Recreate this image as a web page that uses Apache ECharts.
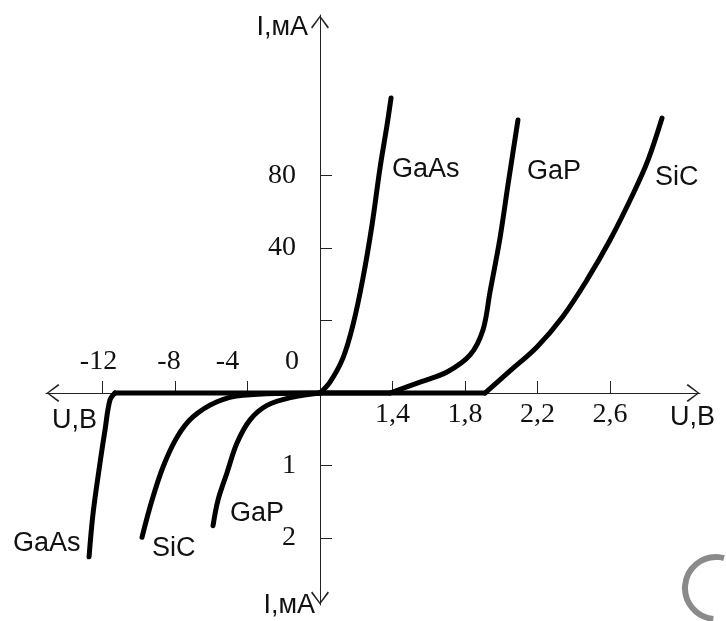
<!DOCTYPE html>
<html>
<head>
<meta charset="utf-8">
<title>ВАХ светодиодов</title>
<script src="https://cdn.jsdelivr.net/npm/echarts@6/dist/echarts.min.js"></script>
<style>
    html, body { margin: 0; padding: 0; background: #fff; }
    #chart { width: 726px; height: 621px; }
</style>
</head>
<body>
<div id="chart"></div>
<script>
// прямые ветви: [U, В ; I, мА]
const gaasForward = [[1.0, 0], [1.055, 3.0], [1.127, 9.7], [1.182, 18.8], [1.237, 31.7], [1.287, 52.7], [1.331, 84.1], [1.370, 107.9], [1.392, 122.8]];
const gapForward = [[1.0, 0], [1.386, 0], [1.552, 3.0], [1.701, 5.8], [1.828, 10.5], [1.899, 17.4], [1.938, 27.9], [1.993, 45.5], [2.037, 74.8], [2.092, 110.6]];
const sicForward = [[1.0, 0], [1.91, 0], [2.048, 6.1], [2.197, 12.7], [2.341, 21.2], [2.473, 31.2], [2.600, 44.4], [2.727, 69.8], [2.810, 88.6], [2.887, 111.7]];

// обратные ветви (ток со знаком минус)
const gaasReverse = [[0, 0], [-11.31, 0], [-11.59, -0.1], [-11.86, -0.51], [-12.14, -0.97], [-12.52, -1.66], [-12.74, -2.26]];
const sicReverse = [[0, 0], [-4.25, -0.03], [-5.68, -0.12], [-7.01, -0.33], [-7.89, -0.61], [-8.66, -1.02], [-9.27, -1.48], [-9.82, -1.99]];
const gapReverse = [[0, 0], [-1.49, -0.055], [-2.92, -0.17], [-3.86, -0.37], [-4.58, -0.69], [-5.13, -1.10], [-5.63, -1.48], [-5.90, -1.83]];

// деления и подписи осей
const uFwdTicks = [1.4, 1.8, 2.2, 2.6];
const uFwdLabels = ['1,4', '1,8', '2,2', '2,6'];
const uRevTicks = [-12, -8, -4];
const uRevLabels = ['-12', '-8', '-4', '0'];
const iFwdTicks = [20, 40, 80];
const iFwdLabels = ['', '40', '80'];
const iRevTicks = [-1, -2];
const iRevLabels = ['1', '2'];

// ось разорвана: справа от нуля шкала начинается с 1 В, вверх по току шаги 0-20-40-80
const U_BREAK = 1.0;
const iSteps = [0, 20, 40, 80];

function uToX(u) {
    if (u < 0) return u / 4;
    return Math.max(0, (u - U_BREAK) / 0.4);
}

function iToY(i) {
    if (i <= 0) return i;
    for (let k = 1; k < iSteps.length; k++) {
        if (i <= iSteps[k]) return k - 1 + (i - iSteps[k - 1]) / (iSteps[k] - iSteps[k - 1]);
    }
    return iSteps.length - 1 + (i - iSteps[iSteps.length - 1]) / 40;
}

const toAxes = arr => arr.map(p => [uToX(p[0]), iToY(p[1])]);

const X_MIN = -3.779, X_MAX = 5.241;
const Y_MIN = -2.924, Y_MAX = 5.214;
const GRID = {left: 46, right: 26, top: 15, bottom: 16};
const W = 726 - GRID.left - GRID.right, H = 621 - GRID.top - GRID.bottom;
// где проходят оси (нулевые линии), в пикселях от краёв сетки
const zeroX = -X_MIN / (X_MAX - X_MIN) * W;
const zeroY = Y_MAX / (Y_MAX - Y_MIN) * H;

const numFont = {fontFamily: 'Liberation Serif', fontSize: 28, color: '#111'};
const sansFont = {fontFamily: 'Liberation Sans', fontSize: 27, color: '#111'};
const arrow = 'path://M7,0 L14,9 L13,10 L7,1.6 L1,10 L0,9 Z';

function pick(value, positions, labels) {
    for (let k = 0; k < positions.length; k++) {
        if (Math.abs(positions[k] - value) < 1e-6) return labels[k];
    }
    return '';
}

const uRevPos = uRevTicks.concat([0]).map(uToX);
const iLabelPos = iFwdTicks.map(iToY).concat(iRevTicks);
const iLabelText = iFwdLabels.concat(iRevLabels);
const revShift = ['a', 'b', 'c', 'd'];

let myChart = echarts.init(document.getElementById('chart'));

// горизонтальный участок по оси рисуем ломаной, изгиб — сглаженной линией
function curve(name, data) {
    let k = 0;
    while (k + 1 < data.length && data[k + 1][1] === 0) k++;
    const style = {color: '#000', width: 5, cap: 'round', join: 'round'};
    const out = [];
    if (k > 0) {
        out.push({name: name, type: 'line', data: toAxes(data.slice(0, k + 1)), symbol: 'none', lineStyle: style, z: 5});
    }
    out.push({name: name, type: 'line', data: toAxes(data.slice(k)), smooth: 0.35, symbol: 'none', lineStyle: style, z: 5});
    return out;
}

let option = {
    animation: false,
    grid: Object.assign({outerBoundsMode: 'none', containLabel: false}, GRID),
    xAxis: [
        {
            type: 'value', min: X_MIN, max: X_MAX, position: 'bottom', offset: -(H - zeroY),
            axisLine: {onZero: false, lineStyle: {color: '#222', width: 1}, symbol: [arrow, arrow], symbolSize: [18, 15], symbolOffset: [7, -7]},
            axisTick: {inside: true, length: 12, customValues: uFwdTicks.map(uToX), lineStyle: {color: '#222'}},
            axisLabel: Object.assign({
                customValues: uFwdTicks.map(uToX), margin: 8,
                formatter: v => pick(v, uFwdTicks.map(uToX), uFwdLabels)
            }, numFont),
            splitLine: {show: false},
            name: 'U,B', nameLocation: 'end', nameGap: -30,
            nameTextStyle: Object.assign({align: 'left', verticalAlign: 'top', lineHeight: 50}, sansFont)
        },
        {
            type: 'value', min: X_MIN, max: X_MAX, position: 'top', offset: -zeroY,
            axisLine: {onZero: false, show: false},
            axisTick: {inside: false, length: 12, customValues: uRevTicks.map(uToX), lineStyle: {color: '#222'}},
            axisLabel: Object.assign({
                customValues: uRevPos, margin: 17,
                formatter: v => {
                    const k = uRevPos.findIndex(p => Math.abs(p - v) < 1e-6);
                    return k < 0 ? '' : '{' + revShift[k] + '|' + uRevLabels[k] + '}';
                },
                rich: {
                    a: Object.assign({padding: [0, 8, 0, 0]}, numFont),
                    b: Object.assign({padding: [0, 12, 0, 0]}, numFont),
                    c: Object.assign({padding: [0, 40, 0, 0]}, numFont),
                    d: Object.assign({padding: [0, 56, 0, 0]}, numFont)
                }
            }, numFont),
            splitLine: {show: false},
            name: 'U,B', nameLocation: 'start', nameGap: -51,
            nameTextStyle: Object.assign({align: 'right', verticalAlign: 'top', lineHeight: 56}, sansFont)
        }
    ],
    yAxis: [
        {
            type: 'value', min: Y_MIN, max: Y_MAX, position: 'left', offset: -zeroX,
            axisLine: {onZero: false, lineStyle: {color: '#222', width: 1}, symbol: [arrow, arrow], symbolSize: [18, 15], symbolOffset: [7, -7]},
            axisTick: {inside: true, length: 12, customValues: iFwdTicks.map(iToY).concat(iRevTicks), lineStyle: {color: '#222'}},
            axisLabel: Object.assign({
                customValues: iLabelPos, margin: 24,
                formatter: v => pick(v, iLabelPos, iLabelText)
            }, numFont),
            splitLine: {show: false},
            name: 'I,мА', nameLocation: 'end', nameGap: -13,
            nameTextStyle: Object.assign({align: 'right', verticalAlign: 'middle', padding: [0, 12, 0, 0]}, sansFont)
        },
        {
            type: 'value', min: Y_MIN, max: Y_MAX, position: 'right', offset: -(W - zeroX),
            axisLine: {onZero: false, show: false},
            axisTick: {show: false},
            axisLabel: {show: false},
            splitLine: {show: false},
            name: 'I,мА', nameLocation: 'start', nameGap: 1,
            nameTextStyle: Object.assign({align: 'right', verticalAlign: 'middle', padding: [0, 5, 0, 0]}, sansFont)
        }
    ],
    graphic: [
        {type: 'text', x: 392, y: 170, style: {text: 'GaAs', verticalAlign: 'middle', font: '27px "Liberation Sans"', fill: '#111'}},
        {type: 'text', x: 527, y: 172, style: {text: 'GaP', verticalAlign: 'middle', font: '27px "Liberation Sans"', fill: '#111'}},
        {type: 'text', x: 655, y: 178, style: {text: 'SiC', verticalAlign: 'middle', font: '27px "Liberation Sans"', fill: '#111'}},
        {type: 'text', x: 13, y: 544, style: {text: 'GaAs', verticalAlign: 'middle', font: '27px "Liberation Sans"', fill: '#111'}},
        {type: 'text', x: 152, y: 549, style: {text: 'SiC', verticalAlign: 'middle', font: '27px "Liberation Sans"', fill: '#111'}},
        {type: 'text', x: 230, y: 514, style: {text: 'GaP', verticalAlign: 'middle', font: '27px "Liberation Sans"', fill: '#111'}},
        // серый значок в правом нижнем углу
        {type: 'arc', shape: {cx: 716, cy: 588, r: 31, startAngle: Math.PI * 95 / 180, endAngle: Math.PI * 285 / 180}, style: {stroke: '#8a8a8a', lineWidth: 6, fill: null}}
    ],
    series: [].concat(
        curve('GaAs', gaasForward),
        curve('GaP', gapForward),
        curve('SiC', sicForward),
        curve('GaAs обр.', gaasReverse),
        curve('SiC обр.', sicReverse),
        curve('GaP обр.', gapReverse)
    )
};

myChart.setOption(option);
</script>
</body>
</html>
